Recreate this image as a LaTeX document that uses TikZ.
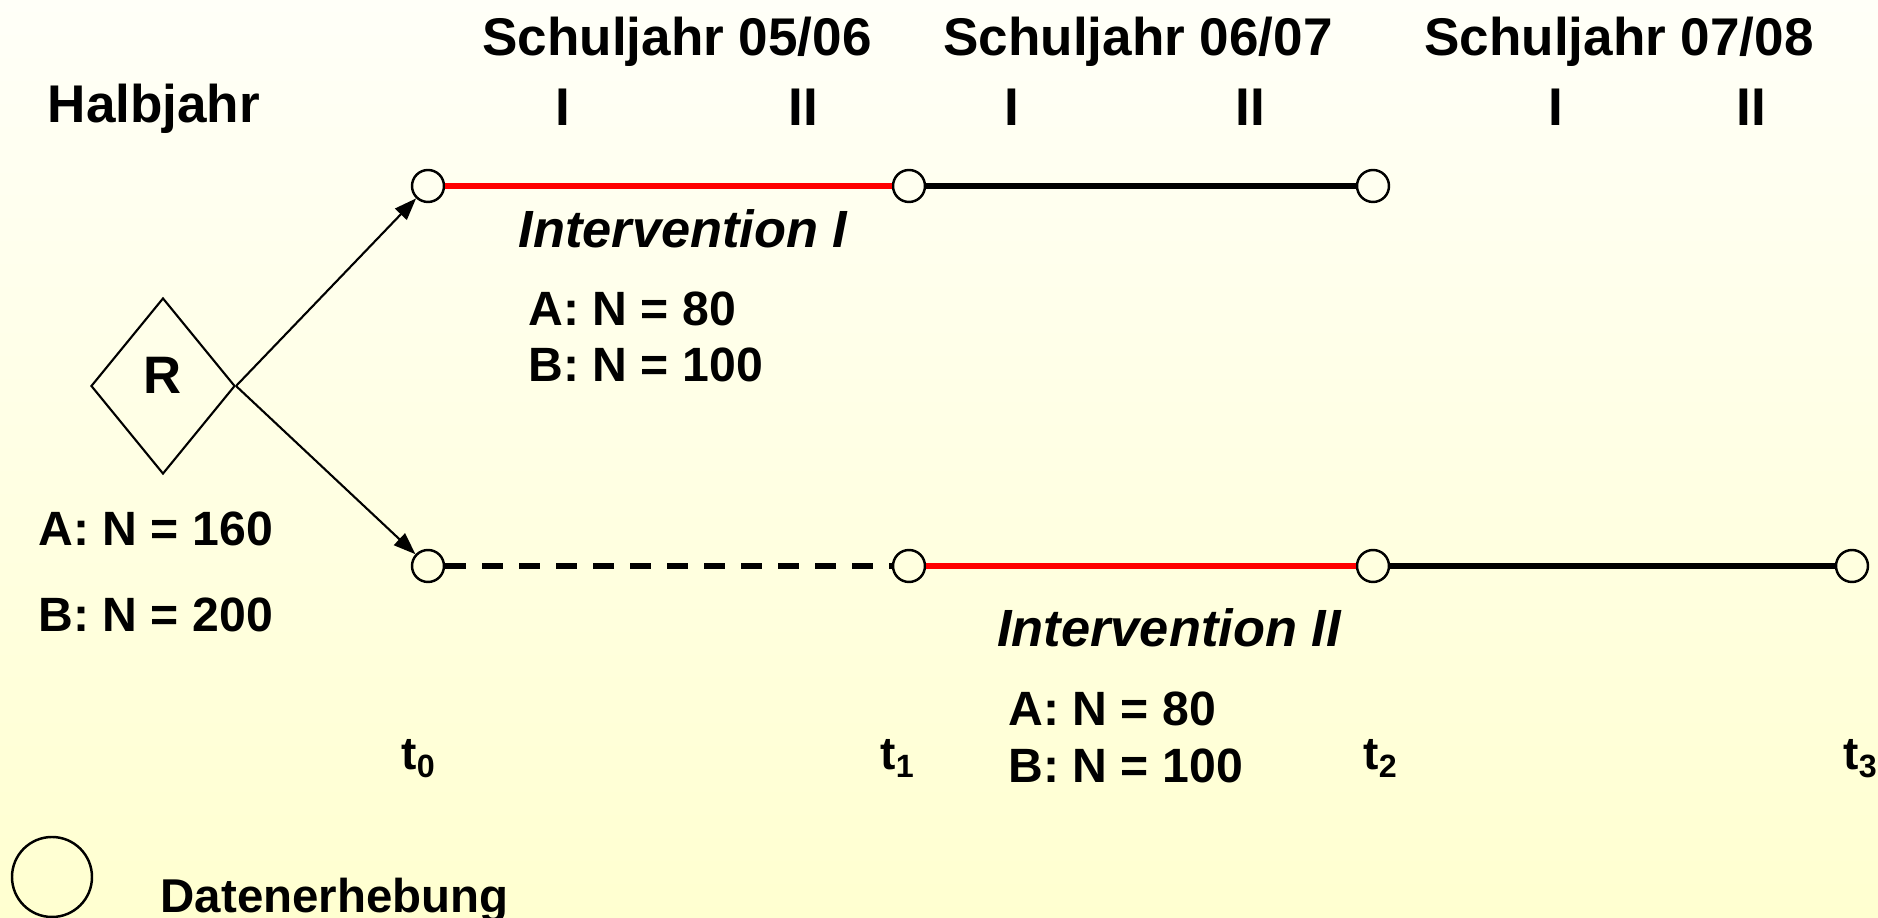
\documentclass[tikz,border=0pt]{standalone}
\usepackage{fontspec}
\setmainfont{Liberation Sans}
\usetikzlibrary{shapes.geometric,arrows.meta}
\definecolor{bgtop}{HTML}{FFFFF8}
\definecolor{bgbottom}{HTML}{FFFFD0}
\definecolor{intred}{HTML}{FF0000}

\begin{document}
\begin{tikzpicture}[
    txt/.style={font=\fontsize{13.7}{16}\selectfont\bfseries, inner sep=0pt, anchor=base west},
    head/.style={font=\fontsize{15.1}{18}\selectfont\bfseries, inner sep=0pt, anchor=base},
    interv/.style={font=\fontsize{14.9}{18}\selectfont\bfseries\itshape, inner sep=0pt, anchor=base},
    tlab/.style={font=\fontsize{13.1}{16}\selectfont\bfseries, inner sep=0pt, anchor=base},
    erhebung/.style={draw, circle, line width=0.7pt, minimum size=0.32cm, inner sep=0pt},
    timeline/.style={line width=1.7pt},
    pfeil/.style={line width=0.6pt, -{Triangle[length=0.22cm,width=0.16cm]}}
]
\shade[top color=bgtop, bottom color=bgbottom] (0,0) rectangle (18.78,9.18);
\useasboundingbox (0,0) rectangle (18.78,9.18);

% Kopfzeile
\node[head] (sj1) at (6.77,8.62) {Schuljahr 05/06};
\node[head] (sj2) at (11.38,8.62) {Schuljahr 06/07};
\node[head] (sj3) at (16.19,8.62) {Schuljahr 07/08};
\node[head, anchor=base west] (halbjahr) at (0.47,7.95) {Halbjahr};
\foreach \x/\h [count=\i] in {5.63/I, 8.03/II, 10.12/I, 12.50/II, 15.56/I, 17.51/II}
    \node[head] (hj\i) at (\x,7.92) {\h};

% Randomisierung
\node[draw, diamond, minimum width=1.44cm, minimum height=1.76cm, inner sep=0pt, line width=0.6pt] (rand) at (1.63,5.32) {};
\node[font=\fontsize{15}{18}\selectfont\bfseries, inner sep=0pt] (rlab) at (1.63,5.43) {R};
\node[txt] (ngesA) at (0.38,3.72) {A: N = 160};
\node[txt] (ngesB) at (0.38,2.86) {B: N = 200};

% Messzeitpunkte
\node[erhebung] (o1) at (4.28,7.32) {};
\node[erhebung] (o2) at (9.09,7.32) {};
\node[erhebung] (o3) at (13.73,7.32) {};
\node[erhebung] (u1) at (4.28,3.52) {};
\node[erhebung] (u2) at (9.09,3.52) {};
\node[erhebung] (u3) at (13.73,3.52) {};
\node[erhebung] (u4) at (18.52,3.52) {};

\draw[pfeil] (rand.east) -- (o1);
\draw[pfeil] (rand.east) -- (u1);

\draw[timeline, intred] (o1) -- (o2);
\draw[timeline] (o2) -- (o3);
\draw[timeline, dash pattern=on 0.21cm off 0.16cm] (u1) -- (u2);
\draw[timeline, intred] (u2) -- (u3);
\draw[timeline] (u3) -- (u4);

% Interventionen
\node[interv] (int1) at (6.83,6.70) {Intervention I};
\node[txt] (int1A) at (5.28,5.92) {A: N = 80};
\node[txt] (int1B) at (5.28,5.36) {B: N = 100};
\node[interv] (int2) at (11.69,2.71) {Intervention II};
\node[txt] (int2A) at (10.08,1.92) {A: N = 80};
\node[txt] (int2B) at (10.08,1.35) {B: N = 100};

% Zeitpunkte
\foreach \x [count=\i from 0] in {4.19, 8.98, 13.81, 18.61}
    \node[tlab] (t\i) at (\x,1.48) {t\textsubscript{\i}};

% Legende
\node[draw, circle, line width=0.7pt, minimum size=0.80cm, inner sep=0pt] (legende) at (0.52,0.41) {};
\node[txt, font=\fontsize{13.5}{16}\selectfont\bfseries] (legtext) at (1.60,0.05) {Datenerhebung};
\end{tikzpicture}
\end{document}
